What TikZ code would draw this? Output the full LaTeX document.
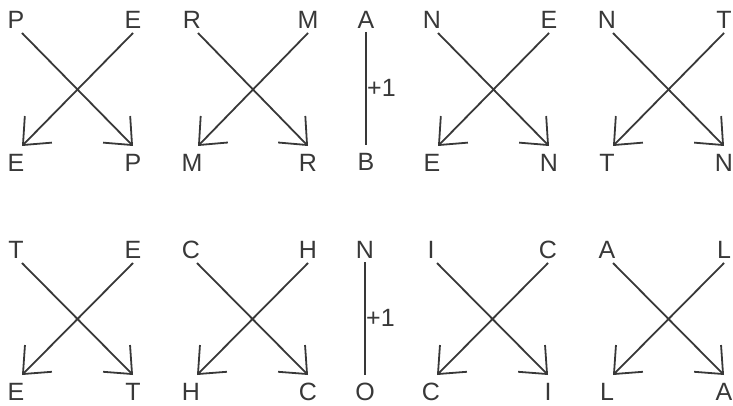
\documentclass[tikz,border=0pt]{standalone}
\usepackage{fontspec}
\setmainfont{Liberation Sans}
\usetikzlibrary{arrows.meta,calc}
\definecolor{ink}{HTML}{383838}
\tikzset{
  letter/.style={text=ink, inner sep=0pt, font=\fontsize{25}{29}\selectfont},
  swapline/.style={draw=ink, line width=1.8pt, -{Straight Barb[length=22pt,width=38pt,line width=1.8pt]}},
  plainline/.style={draw=ink, line width=1.8pt},
}
% One swap cross: id, left x, right x, line top y, line bottom y, labels TL TR BL BR
\newcommand\swapcross[9]{%
  \coordinate (#1-a) at (#2,#4);
  \coordinate (#1-b) at (#3,#4);
  \coordinate (#1-c) at (#2,#5);
  \coordinate (#1-d) at (#3,#5);
  \node[letter] (#1-tl) at ($(#1-a)+(-6,-13)$) {#6};
  \node[letter] (#1-tr) at ($(#1-b)+(0,-13)$) {#7};
  \node[letter] (#1-bl) at ($(#1-c)+(-6,17)$) {#8};
  \node[letter] (#1-br) at ($(#1-d)+(0,17)$) {#9};
  \draw[swapline] (#1-a) -- (#1-d);
  \draw[swapline] (#1-b) -- (#1-c);
}
% One shift step: id, x, line top y, line bottom y, top letter, bottom letter
\newcommand\shiftstep[6]{%
  \coordinate (#1-a) at (#2,#3);
  \coordinate (#1-b) at (#2,#4);
  \node[letter] (#1-t) at ($(#1-a)+(0,-12)$) {#5};
  \node[letter] (#1-bt) at ($(#1-b)+(0,17)$) {#6};
  \draw[plainline] (#1-a) -- (#1-b);
  \node[letter, anchor=west] (#1-n) at ($(#1-a)!0.5!(#1-b)+(1,-1)$) {+1};
}
\begin{document}
\begin{tikzpicture}[x=1pt,y=-1pt]
  \useasboundingbox (0,0) rectangle (733,406);
  % first row
  \swapcross{p1}{22}{133}{33}{146}{P}{E}{E}{P}
  \swapcross{p2}{198}{308}{33}{146}{R}{M}{M}{R}
  \shiftstep{s1}{366}{32}{145}{A}{B}
  \swapcross{p3}{438}{549}{33}{146}{N}{E}{E}{N}
  \swapcross{p4}{613}{724}{33}{146}{N}{T}{T}{N}
  % second row
  \swapcross{q1}{22}{133}{263}{375}{T}{E}{E}{T}
  \swapcross{q2}{197}{308}{263}{375}{C}{H}{H}{C}
  \shiftstep{s2}{365}{262}{375}{N}{O}
  \swapcross{q3}{437}{548}{263}{375}{I}{C}{C}{I}
  \swapcross{q4}{613}{724}{263}{375}{A}{L}{L}{A}
\end{tikzpicture}
\end{document}
